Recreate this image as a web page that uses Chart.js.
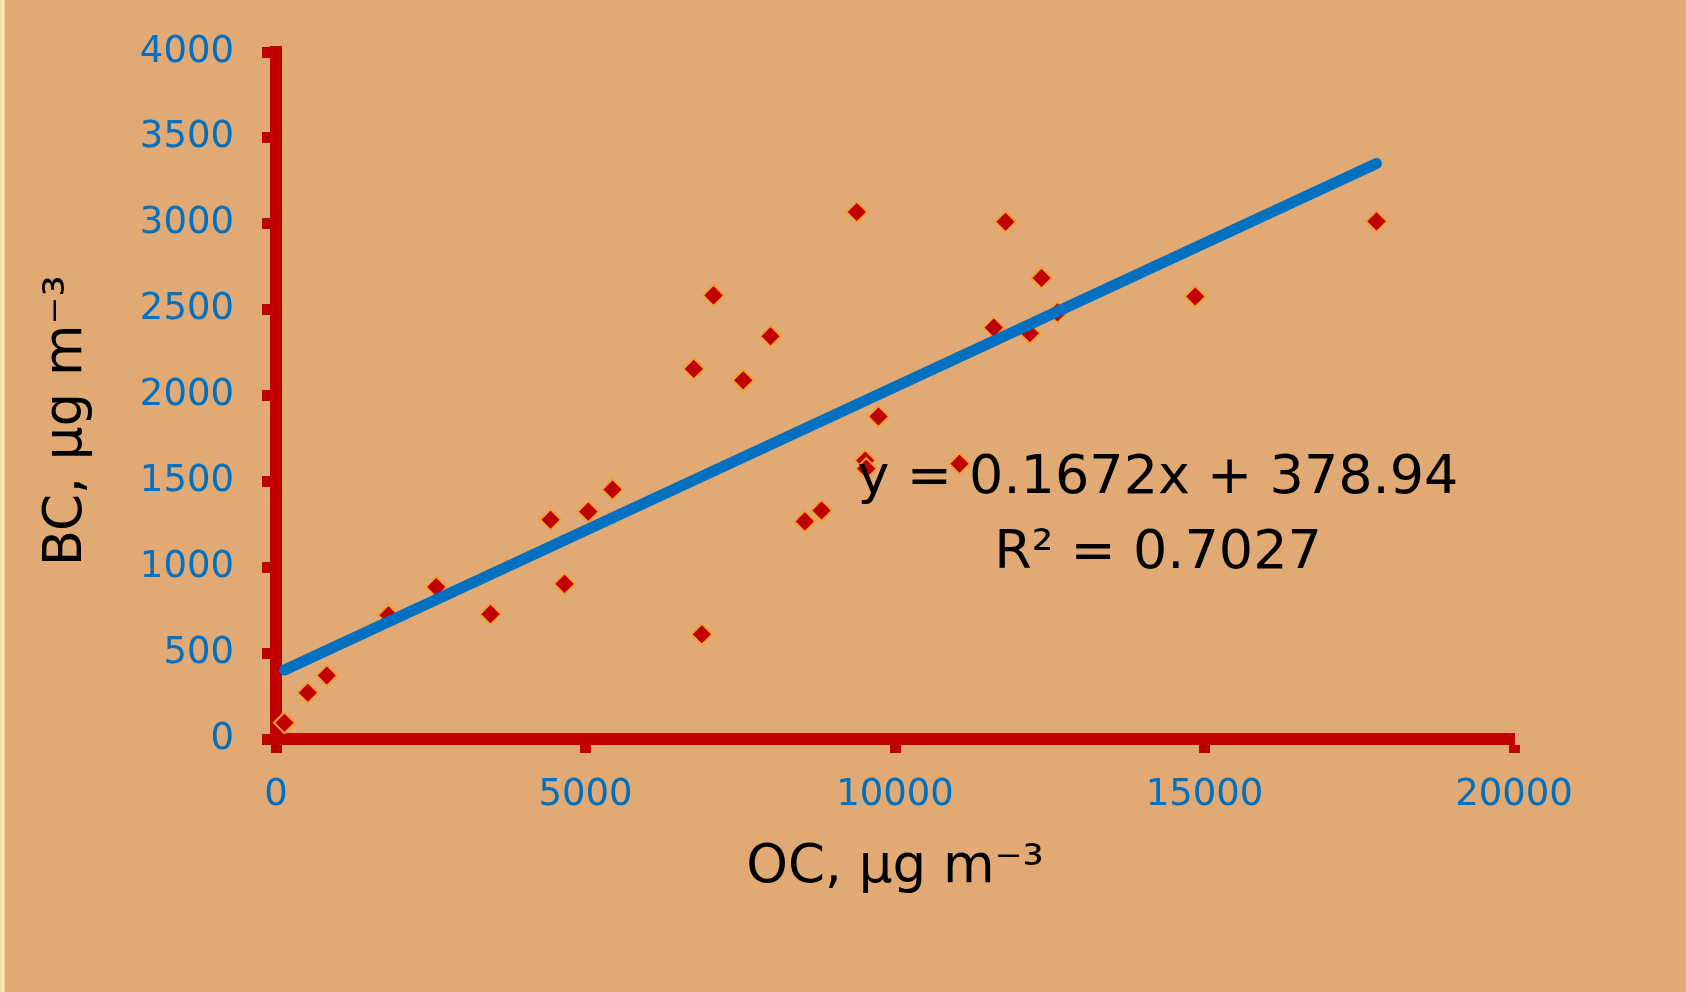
<!DOCTYPE html>
<html>
<head>
<meta charset="utf-8">
<script src="https://cdn.jsdelivr.net/npm/chart.js@4"></script>
<style>
  html, body { margin: 0; padding: 0; background: #E1AA74; overflow: hidden; }
  #wrap { position: relative; width: 1686px; height: 992px; }
</style>
</head>
<body>
<div id="wrap"><canvas id="chart" width="1686" height="992"></canvas></div>
<script>
// OC / BC, µg m-3
const ocValues = [137, 514, 821, 1817, 2588, 3465, 4435, 4661, 5044, 5436,
                  6750, 6879, 7068, 7548, 7989, 8543, 8813, 9383, 9519, 9535,
                  9733, 11042, 11596, 11785, 12178, 12367, 12625, 14850, 17779];
const bcValues = [95, 269, 370, 721, 885, 727, 1277, 903, 1324, 1453,
                  2155, 610, 2583, 2089, 2345, 1267, 1330, 3068, 1622, 1574,
                  1878, 1603, 2395, 3012, 2362, 2684, 2484, 2576, 3014];

// droite de tendance (extrémités)
const trendX = [137, 17779];
const trendY = [402, 3351];

const equationLines = ['y = 0.1672x + 378.94', 'R² = 0.7027'];

const xTitle = 'OC, µg m⁻³';
const yTitle = 'BC, µg m⁻³   ';

const RED = '#C00000';
const BLUE = '#0070C0';
const FONT = "'DejaVu Sans', sans-serif";

// fond + liseré à gauche
const backgroundPlugin = {
    id: 'background',
    beforeDraw(chart) {
        const ctx = chart.ctx;
        ctx.save();
        ctx.fillStyle = '#E1AA74';
        ctx.fillRect(0, 0, chart.width, chart.height);
        const g = ctx.createLinearGradient(0, 0, 6, 0);
        g.addColorStop(0, '#EFD9A0');
        g.addColorStop(0.5, '#F8EBC2');
        g.addColorStop(1, '#E8C98F');
        ctx.fillStyle = g;
        ctx.fillRect(0, 0, 5, chart.height);
        ctx.restore();
    }
};

// équation de la régression
const equationPlugin = {
    id: 'equation',
    afterDraw(chart) {
        const ctx = chart.ctx;
        ctx.save();
        ctx.fillStyle = '#000000';
        ctx.font = '54px ' + FONT;
        ctx.textAlign = 'center';
        ctx.textBaseline = 'alphabetic';
        ctx.fillText(equationLines[0], 1158, 493);
        ctx.fillText(equationLines[1], 1158, 568);
        ctx.restore();
    }
};

const points = ocValues.map((x, i) => ({ x: x, y: bcValues[i] }));
const trend = trendX.map((x, i) => ({ x: x, y: trendY[i] }));

const plainTick = (value) => String(value);

new Chart(document.getElementById('chart'), {
    type: 'scatter',
    data: {
        datasets: [
            {
                label: 'Linéaire',
                data: trend,
                showLine: true,
                borderColor: BLUE,
                borderWidth: 11,
                borderCapStyle: 'round',
                pointRadius: 0,
                order: 0,
                clip: false
            },
            {
                label: 'BC',
                data: points,
                pointStyle: 'rectRot',
                pointRadius: 10.5,
                backgroundColor: RED,
                borderColor: '#F0A036',
                borderWidth: 2,
                order: 1,
                clip: false
            }
        ]
    },
    options: {
        responsive: false,
        animation: false,
        devicePixelRatio: 1,
        layout: { padding: { left: 0, top: 52, right: 172, bottom: 0 } },
        plugins: {
            legend: { display: false },
            tooltip: { enabled: false }
        },
        scales: {
            x: {
                type: 'linear',
                min: 0,
                max: 20000,
                afterFit: (scale) => { scale.height = 253; },
                border: { color: RED, width: 12 },
                grid: {
                    drawOnChartArea: false,
                    drawTicks: true,
                    tickLength: 14,
                    tickWidth: 11,
                    tickColor: RED
                },
                ticks: {
                    stepSize: 5000,
                    color: BLUE,
                    padding: 20,
                    maxRotation: 0,
                    callback: plainTick,
                    font: { family: FONT, size: 37 }
                },
                title: {
                    display: true,
                    text: xTitle,
                    color: '#000000',
                    padding: { top: 0, bottom: 92 },
                    font: { family: FONT, size: 53 }
                }
            },
            y: {
                type: 'linear',
                min: 0,
                max: 4000,
                afterFit: (scale) => { scale.width = 276; },
                border: { color: RED, width: 12 },
                grid: {
                    drawOnChartArea: false,
                    drawTicks: true,
                    tickLength: 14,
                    tickWidth: 11,
                    tickColor: RED
                },
                ticks: {
                    stepSize: 500,
                    color: BLUE,
                    padding: 28,
                    callback: plainTick,
                    font: { family: FONT, size: 37 }
                },
                title: {
                    display: true,
                    text: yTitle,
                    color: '#000000',
                    padding: { top: 35, bottom: 0 },
                    font: { family: FONT, size: 53 }
                }
            }
        }
    },
    plugins: [backgroundPlugin, equationPlugin]
});
</script>
</body>
</html>
